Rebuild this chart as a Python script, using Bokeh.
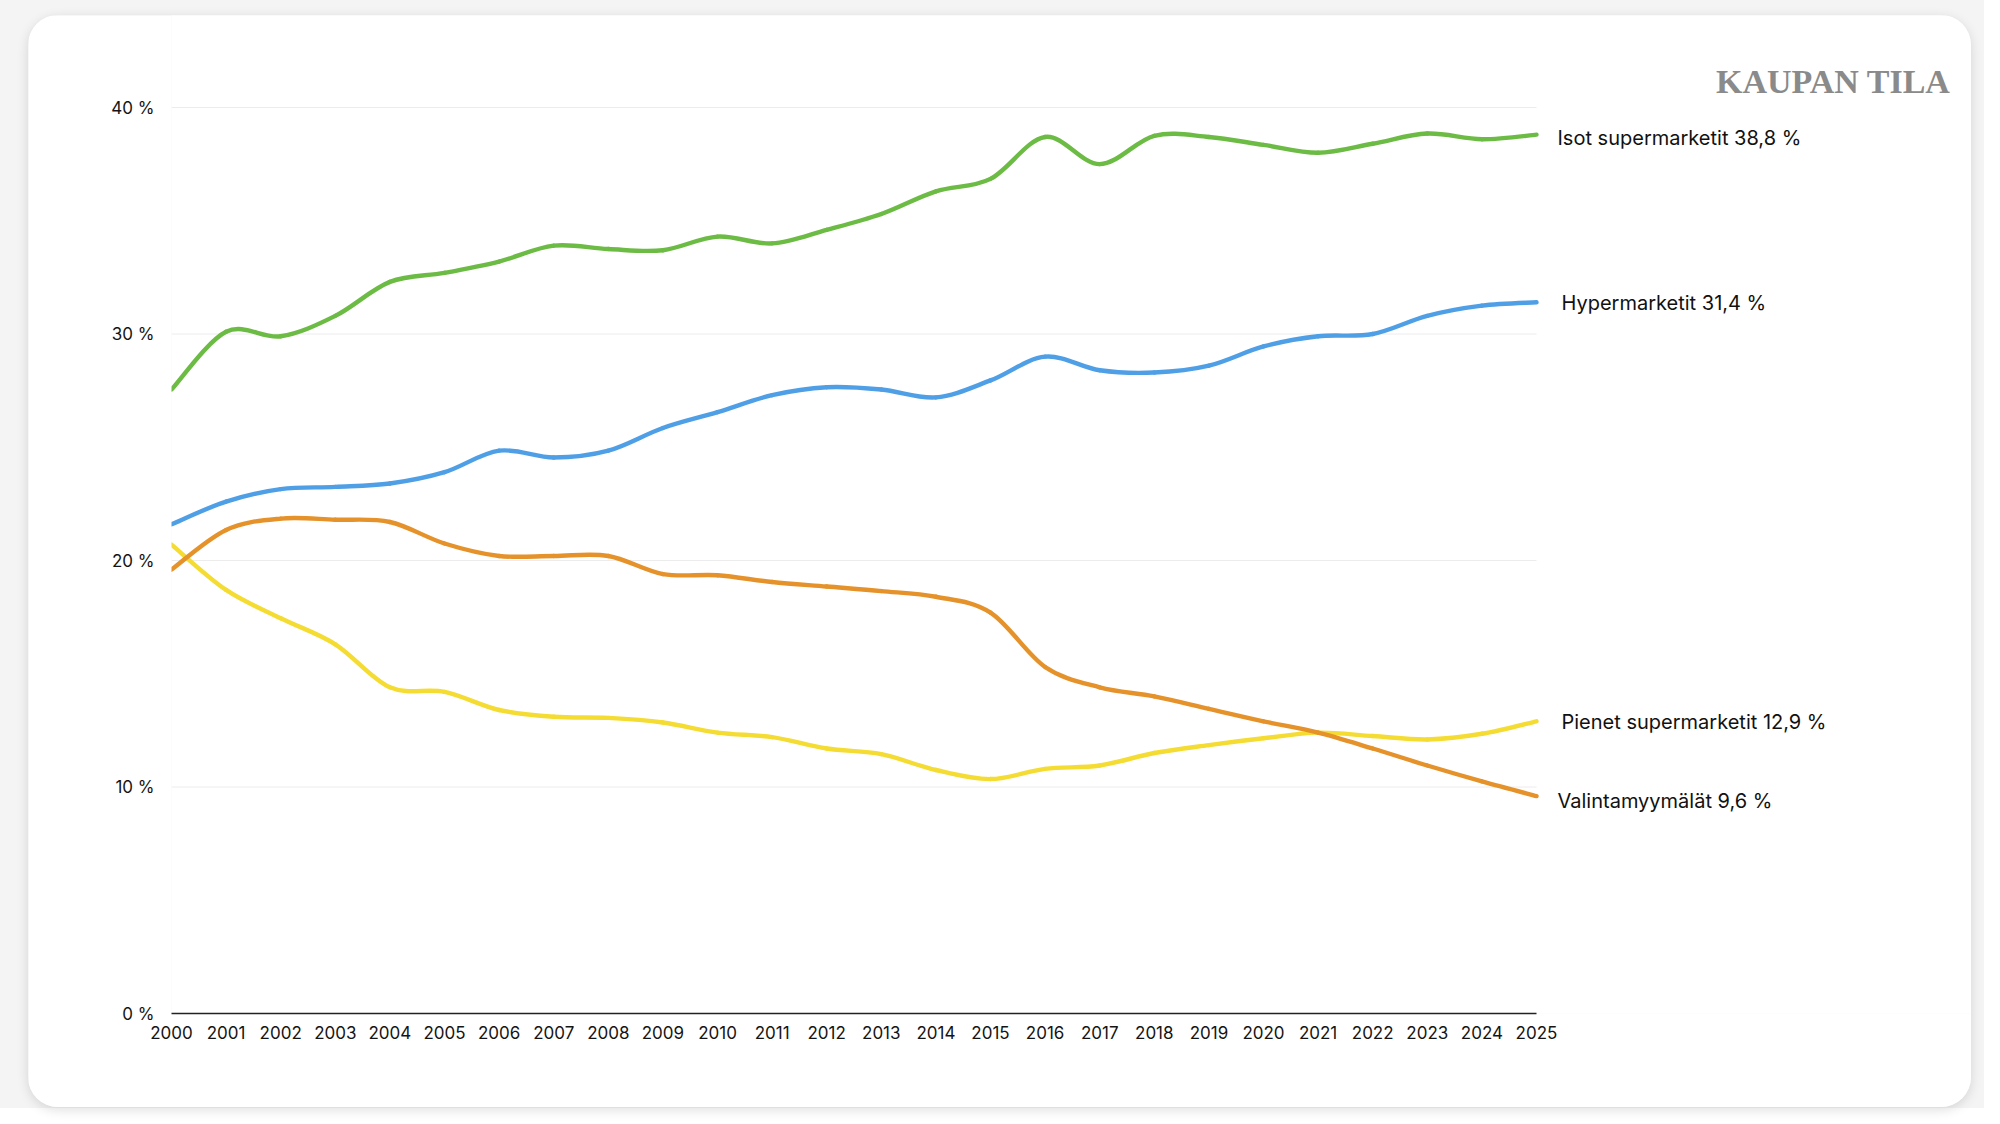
from bokeh.plotting import figure
from bokeh.models import Range1d, FixedTicker, Label, Spacer
from bokeh.layouts import column, row
from bokeh.embed import file_html
from bokeh.resources import INLINE

years = list(range(2000, 2026))
isot_super = [27.55, 30.1, 29.9, 30.8, 32.3, 32.7, 33.2, 33.9, 33.75, 33.7, 34.3, 34.0, 34.6,
              35.3, 36.3, 36.85, 38.7, 37.5, 38.75, 38.7, 38.35, 38.0, 38.4, 38.85, 38.6, 38.8]
hypermarketit = [21.6, 22.6, 23.15, 23.25, 23.4, 23.9, 24.85, 24.55, 24.85, 25.85, 26.55, 27.3, 27.65,
                 27.55, 27.2, 27.95, 29.0, 28.4, 28.3, 28.6, 29.45, 29.9, 30.0, 30.8, 31.25, 31.4]
pienet_super = [20.7, 18.7, 17.45, 16.3, 14.4, 14.2, 13.4, 13.1, 13.05, 12.85, 12.4, 12.2, 11.7,
                11.45, 10.75, 10.35, 10.8, 10.95, 11.5, 11.85, 12.15, 12.4, 12.25, 12.1, 12.35, 12.9]
valintamyymalat = [19.6, 21.35, 21.85, 21.8, 21.7, 20.75, 20.2, 20.2, 20.2, 19.4, 19.35, 19.05, 18.85,
                   18.65, 18.4, 17.7, 15.3, 14.4, 14.0, 13.45, 12.9, 12.4, 11.7, 10.95, 10.25, 9.6]

series_names = ["Isot supermarketit", "Hypermarketit", "Pienet supermarketit", "Valintamyymälät"]
series_values = [isot_super, hypermarketit, pienet_super, valintamyymalat]
series_colors = ["#6cbb44", "#4f9fe6", "#f4dc33", "#e5922a"]
label_x_offsets = [21, 25, 25, 21]
label_y_offsets = [-3, -1, -1, -5]

y_ticks = [0, 10, 20, 30, 40]
y_tick_labels = ["0 %", "10 %", "20 %", "30 %", "40 %"]
x_tick_labels = [str(y) for y in years]
brand = "KAUPAN TILA"

FONT = "Inter"

# card geometry (pixels)
CARD_W, CARD_H = 1943, 1092
LEFT, BOTTOM = 143, 94
PLOT_W = 1365     # width spanned by 2000..2025
PLOT_H = 906      # height spanned by 0..40 %
px_per_year = PLOT_W / (years[-1] - years[0])
px_per_pct = PLOT_H / (y_ticks[-1] - y_ticks[0])
x_end = years[0] + (CARD_W - LEFT) / px_per_year
y_end = y_ticks[0] + (CARD_H - BOTTOM) / px_per_pct

p = figure(width=CARD_W, height=CARD_H, output_backend="svg", toolbar_location=None,
           x_range=Range1d(years[0], x_end), y_range=Range1d(y_ticks[0], y_end),
           min_border_left=LEFT, min_border_right=0, min_border_top=0, min_border_bottom=BOTTOM)
p.background_fill_color = "white"
p.border_fill_color = "white"
p.outline_line_color = None

# axes
p.xaxis.ticker = FixedTicker(ticks=years)
p.xaxis.major_label_overrides = {y: s for y, s in zip(years, x_tick_labels)}
p.xaxis.bounds = (years[0], years[-1])
p.xaxis.axis_line_color = "#222222"
p.xaxis.axis_line_width = 1.5
p.xaxis.major_tick_line_color = None
p.xaxis.minor_tick_line_color = None
p.xaxis.major_label_standoff = 6
p.xaxis.major_label_text_font = FONT
p.xaxis.major_label_text_font_size = "17px"
p.xaxis.major_label_text_color = "#141414"

p.yaxis.ticker = FixedTicker(ticks=y_ticks)
p.yaxis.major_label_overrides = {t: s for t, s in zip(y_ticks, y_tick_labels)}
p.yaxis.axis_line_color = None
p.yaxis.major_tick_line_color = None
p.yaxis.minor_tick_line_color = None
p.yaxis.major_label_standoff = 11
p.yaxis.major_label_text_font = FONT
p.yaxis.major_label_text_font_size = "17px"
p.yaxis.major_label_text_color = "#141414"

p.xgrid.grid_line_color = None
p.ygrid.grid_line_color = None

# horizontal grid lines limited to the data span
grid_y = y_ticks[1:]
p.segment(x0=[years[0]] * len(grid_y), y0=grid_y, x1=[years[-1]] * len(grid_y), y1=grid_y,
          line_color="#ececec", line_width=1, level="underlay")


def bezier_parts(xs, ys):
    n = len(xs)
    out = {k: [] for k in ("x0", "y0", "x1", "y1", "cx0", "cy0", "cx1", "cy1")}
    for i in range(n - 1):
        xp, yp = (xs[i - 1], ys[i - 1]) if i > 0 else (xs[i], ys[i])
        xn2, yn2 = (xs[i + 2], ys[i + 2]) if i + 2 < n else (xs[i + 1], ys[i + 1])
        out["x0"].append(xs[i]); out["y0"].append(ys[i])
        out["x1"].append(xs[i + 1]); out["y1"].append(ys[i + 1])
        out["cx0"].append(xs[i] + (xs[i + 1] - xp) / 6.0)
        out["cy0"].append(ys[i] + (ys[i + 1] - yp) / 6.0)
        out["cx1"].append(xs[i + 1] - (xn2 - xs[i]) / 6.0)
        out["cy1"].append(ys[i + 1] - (yn2 - ys[i]) / 6.0)
    return out


for name, vals, col, xo, yo in zip(series_names, series_values, series_colors,
                                   label_x_offsets, label_y_offsets):
    parts = bezier_parts(years, vals)
    p.bezier(line_color=col, line_width=4.4, line_cap="round", **parts)
    txt = f"{name} {vals[-1]:.1f}".replace(".", ",") + " %"
    p.add_layout(Label(x=years[-1], y=vals[-1] + yo / px_per_pct, x_offset=xo, text=txt,
                       text_baseline="middle", text_align="left",
                       text_font=FONT, text_font_size="20px", text_color="#111111"))

p.add_layout(Label(x=years[-1] + 414 / px_per_year, y=y_ticks[-1] + 26 / px_per_pct, text=brand,
                   text_align="right", text_baseline="middle",
                   text_font="Liberation Serif", text_font_style="bold",
                   text_font_size="34px", text_color="#8a8a8a"))

p.styles = {"border-radius": "30px", "box-shadow": "0 3px 12px rgba(0,0,0,0.13)",
            "overflow": "hidden"}

layout = column(Spacer(width=1984, height=15),
                row(Spacer(width=28, height=CARD_H), p),
                width=1984, height=1108, styles={"background-color": "#f4f4f4"})

open("out.html", "w").write(file_html(layout, INLINE))
